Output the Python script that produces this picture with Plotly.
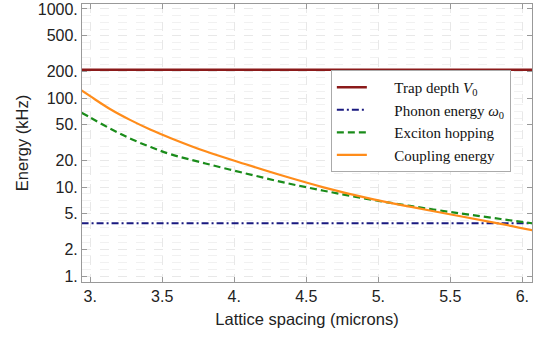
import plotly.graph_objects as go

# values
spacing = [2.94, 3.0, 3.14, 3.28, 3.42, 3.56, 3.8, 4.08, 4.35, 4.62, 4.92, 5.22, 5.57, 5.85, 6.07]
coupling = [121.4, 104.8, 74.8, 56.4, 44.0, 35.4, 25.2, 18.0, 13.2, 9.92, 7.54, 6.01, 4.70, 3.86, 3.27]
hopping = [68.4, 60.4, 45.2, 34.9, 28.1, 23.3, 18.4, 14.2, 11.2, 9.09, 7.37, 6.13, 5.05, 4.37, 3.91]
trap_depth = 208
phonon = 3.91

x_ticks = [3, 3.5, 4, 4.5, 5, 5.5, 6]
x_ticktext = ["3.", "3.5", "4.", "4.5", "5.", "5.5", "6."]
y_ticks = [1, 2, 5, 10, 20, 50, 100, 200, 500, 1000]
y_ticktext = ["1.", "2.", "5.", "10.", "20.", "50.", "100.", "200.", "500.", "1000."]

# faint dashed grid between the labelled ticks
y_minor = []
for a, b in zip(y_ticks[:-1], y_ticks[1:]):
    n = 4 if b / a == 2 else 5
    for k in range(1, n):
        y_minor.append(a * (b / a) ** (k / n))

pad = "\u2003\u2002"
x_ends = [spacing[0], spacing[-1]]

fig = go.Figure()
fig.add_trace(go.Scatter(x=x_ends, y=[trap_depth, trap_depth], mode="lines",
                         line=dict(color="#8b1a1a", width=2.5),
                         name=pad + "Trap depth <i>V</i><sub>0</sub>"))
fig.add_trace(go.Scatter(x=x_ends, y=[phonon, phonon], mode="lines",
                         line=dict(color="#1a1a80", width=2, dash="7px,3px,2px,3px"),
                         name=pad + "Phonon energy <i>ω</i><sub>0</sub>"))
fig.add_trace(go.Scatter(x=spacing, y=hopping, mode="lines",
                         line=dict(color="#1a8c1a", width=2.2, dash="7px,4px", shape="spline"),
                         name=pad + "Exciton hopping"))
fig.add_trace(go.Scatter(x=spacing, y=coupling, mode="lines",
                         line=dict(color="#ff8c1a", width=2.2, shape="spline"),
                         name=pad + "Coupling energy"))

tick_font = dict(family="Liberation Sans, Arial", size=16, color="#222")
title_font = dict(family="Liberation Sans, Arial", size=16.5, color="#222")

fig.update_layout(
    width=545, height=340,
    margin=dict(l=82, r=13, t=4, b=58),
    paper_bgcolor="white", plot_bgcolor="white",
    font=tick_font,
    showlegend=True,
    legend=dict(x=0.553, y=0.579, xanchor="left", yanchor="middle",
                bgcolor="white", bordercolor="#aaa", borderwidth=1,
                font=dict(family="Liberation Serif, Times New Roman", size=15, color="#111"),
                itemwidth=30, tracegroupgap=0),
    xaxis=dict(range=[2.943, 6.067], tickvals=x_ticks, ticktext=x_ticktext,
               ticks="inside", ticklen=5, tickcolor="#999", automargin=False,
               showline=True, linecolor="#999", linewidth=1, mirror="allticks",
               showgrid=True, gridcolor="#e8e8e8", griddash="dash", gridwidth=1,
               zeroline=False, tickfont=tick_font,
               title=dict(text="Lattice spacing (microns)", font=title_font, standoff=9)),
    yaxis=dict(type="log", range=[-0.067, 3.056], tickvals=y_ticks, ticktext=y_ticktext,
               ticks="inside", ticklen=5, tickcolor="#999", automargin=False,
               showline=True, linecolor="#999", linewidth=1, mirror="allticks",
               showgrid=True, gridcolor="#e8e8e8", griddash="dash", gridwidth=1,
               minor=dict(tickmode="array", tickvals=y_minor, showgrid=True,
                          gridcolor="#f1f1f1", griddash="dash", ticks=""),
               zeroline=False, tickfont=tick_font,
               title=dict(text="Energy (kHz)", font=title_font, standoff=4)),
)

# the page body has a default 8px margin; drop it so the figure sits at the corner
fig.write_html("out.html", config={"displayModeBar": False},
               post_script="document.body.style.margin='0';")
